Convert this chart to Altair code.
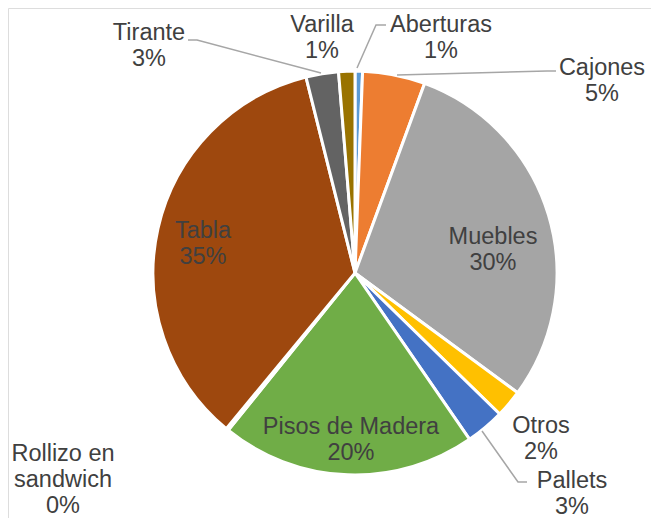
import altair as alt
import pandas as pd

# ---- data ----
categories = ["Aberturas", "Cajones", "Muebles", "Otros", "Pallets",
              "Pisos de Madera", "Rollizo en sandwich", "Tabla", "Tirante", "Varilla"]
values = [0.6, 5.0, 29.5, 2.2, 3.1, 20.4, 0.2, 35.1, 2.6, 1.3]
display_names = ["Aberturas", "Cajones", "Muebles", "Otros", "Pallets",
                 "Pisos de Madera", "Rollizo en\nsandwich", "Tabla", "Tirante", "Varilla"]
colors = ["#5B9BD5", "#ED7D31", "#A5A5A5", "#FFC000", "#4472C4",
          "#70AD47", "#255E91", "#9E480E", "#636363", "#997300"]

# ---- layout (page pixels) ----
OFF = 8
CX, CY, R = 355, 273, 202
label_pos = {  # centre x, first-line baseline y
    "Aberturas": (441, 32), "Cajones": (602, 75), "Muebles": (493, 244),
    "Otros": (541, 433), "Pallets": (572, 488), "Pisos de Madera": (351, 434),
    "Rollizo en sandwich": (63, 461), "Tabla": (203, 238), "Tirante": (149, 40),
    "Varilla": (322, 32),
}
leaders = {
    "Tirante": [(188, 40), (197, 40), (321, 73)],
    "Aberturas": [(386, 25), (376, 25), (357, 68)],
    "Cajones": [(556, 71), (547, 71), (397, 75)],
    "Pallets": [(482, 431), (518, 482), (527, 482)],
}

df = pd.DataFrame({
    "cat": categories,
    "value": values,
    "idx": list(range(len(categories))),
})
df["label"] = [f"{n}\n{round(v)}%" for n, v in zip(display_names, values)]
df["px"] = [label_pos[c][0] - OFF for c in categories]
df["py"] = [label_pos[c][1] - OFF for c in categories]

lines = []
for k, pts in leaders.items():
    for i, (x, y) in enumerate(pts):
        lines.append({"id": k, "i": i, "x": x - OFF, "y": y - OFF})
ldf = pd.DataFrame(lines)

color_scale = alt.Scale(domain=categories, range=colors)

pie = alt.Chart(df).mark_arc(outerRadius=R, stroke="white", strokeWidth=3).encode(
    theta=alt.Theta("value:Q", stack=True),
    color=alt.Color("cat:N", scale=color_scale, legend=None),
    order=alt.Order("idx:Q"),
    x=alt.value(CX - OFF),
    y=alt.value(CY - OFF),
)

leader = alt.Chart(ldf).mark_line(color="#A6A6A6", strokeWidth=1.5).encode(
    x=alt.X("x:Q", scale=None, axis=None),
    y=alt.Y("y:Q", scale=None, axis=None),
    detail="id:N",
    order="i:Q",
)

text = alt.Chart(df).mark_text(
    font="Liberation Sans", fontSize=23.5, color="#404040",
    align="center", baseline="alphabetic", lineBreak="\n", lineHeight=26,
).encode(
    x=alt.X("px:Q", scale=None, axis=None),
    y=alt.Y("py:Q", scale=None, axis=None),
    text="label:N",
)

chart = alt.layer(pie, leader, text).properties(
    width=643, height=510,
    autosize=alt.AutoSizeParams(type="none"),
    padding=0,
).configure_view(stroke=None).configure(background="white")

chart.save("out.html", embed_options={"renderer": "svg", "actions": False})
